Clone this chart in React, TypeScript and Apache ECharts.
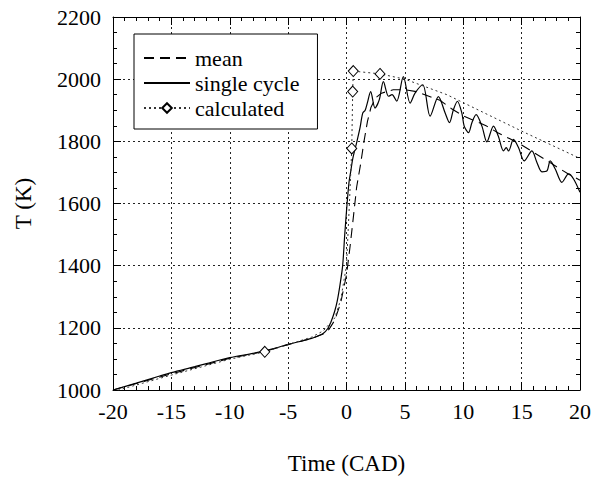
import React, { useEffect, useRef } from "react";
import * as echarts from "echarts";

// ---- data ----
const meanX = [-20, -15, -10, -7, -5, -3, -2, -1.5, -1, -0.5, 0, 0.3, 0.6, 0.87, 1.2, 1.5, 1.8, 2.1, 2.5, 3, 4, 5, 6, 7, 8, 9, 10, 11, 12, 13, 14, 15, 16, 17, 18, 19, 20];
const meanT = [1000, 1052, 1102, 1124, 1146, 1166, 1180, 1195, 1225, 1280, 1370, 1460, 1560, 1653, 1725, 1800, 1865, 1910, 1940, 1955, 1966, 1966, 1960, 1946, 1932, 1905, 1882, 1866, 1849, 1827, 1808, 1788, 1765, 1742, 1718, 1695, 1675];

const singleX = [-20, -18, -16, -15, -13, -12, -10, -8, -7, -6, -5, -4, -3, -2.5, -2, -1.6, -1.3, -1.0, -0.8, -0.55, -0.33, -0.15, 0.05, 0.22, 0.35, 0.53, 0.87, 1.16, 1.39, 1.6, 1.78, 2.07, 2.44, 2.81, 3.16, 3.6, 3.9, 4.3, 4.87, 5.45, 5.87, 6.53, 7.16, 7.87, 8.45, 8.82, 9.16, 9.5, 9.88, 10.08, 10.45, 10.74, 11.1, 11.6, 12.02, 12.59, 13.0, 13.45, 13.68, 13.88, 14.3, 14.73, 15.22, 15.88, 16.31, 16.74, 17.17, 17.45, 17.88, 18.45, 19.02, 19.45, 20];
const singleT = [1000, 1022, 1045, 1056, 1075, 1085, 1104, 1118, 1126, 1136, 1147, 1156, 1166, 1173, 1182, 1198, 1222, 1255, 1285, 1340, 1400, 1500, 1600, 1670, 1700, 1743, 1796, 1844, 1891, 1900, 1923, 1960, 1907, 1934, 1992, 1945, 1950, 1929, 2008, 1923, 1955, 1982, 1881, 1944, 1891, 1860, 1902, 1929, 1891, 1849, 1828, 1860, 1886, 1849, 1798, 1849, 1817, 1769, 1780, 1769, 1806, 1780, 1737, 1769, 1732, 1702, 1705, 1737, 1711, 1668, 1695, 1679, 1636];

const calcX = [-20, -15, -10, -7, -5, -3, -2, -1, -0.5, 0, 0.25, 0.45, 0.53, 0.58, 2.87, 5, 8.6, 15, 20];
const calcT = [995, 1048, 1099, 1123, 1146, 1170, 1190, 1232, 1290, 1400, 1600, 1777, 1960, 2026, 2017, 2000, 1950, 1833, 1745];
const calcMarked = [false, false, false, true, false, false, false, false, false, false, false, true, true, true, true, false, false, false, false];

const xTicks = { min: -20, max: 20, interval: 5 };
const yTicks = { min: 1000, max: 2200, interval: 200 };

const FONT = "'Liberation Serif', 'Times New Roman', serif";

export default function App() {
  const ref = useRef<HTMLDivElement>(null);

  useEffect(() => {
    if (!ref.current) return;
    const chart = echarts.init(ref.current, undefined, { renderer: "svg" });

    const gridLine = { show: true, lineStyle: { color: "#222", type: [2, 3] as any, width: 1 } };
    const axisLine = { show: true, onZero: false, lineStyle: { color: "#000", width: 1 } };
    const tick = { show: true, inside: true, length: 8, lineStyle: { color: "#000" } };

    const baseX = {
      type: "value" as const,
      min: xTicks.min,
      max: xTicks.max,
      interval: xTicks.interval,
      axisLine,
      axisTick: tick,
      minorTick: { show: true, splitNumber: 5, length: 4, lineStyle: { color: "#000" } },
    };
    const baseY = {
      type: "value" as const,
      min: yTicks.min,
      max: yTicks.max,
      interval: yTicks.interval,
      axisLine,
      axisTick: tick,
      minorTick: { show: true, splitNumber: 4, length: 4, lineStyle: { color: "#000" } },
    };

    chart.setOption({
      animation: false,
      backgroundColor: "#fff",
      grid: { left: 113, right: 18, top: 17, bottom: 87, containLabel: false },
      xAxis: [
        {
          ...baseX,
          position: "bottom",
          splitLine: gridLine,
          axisLabel: { color: "#000", fontSize: 22, fontFamily: FONT, margin: 10, formatter: (v: number) => String(v) },
          name: "Time (CAD)",
          nameLocation: "middle",
          nameGap: 62,
          nameTextStyle: { color: "#000", fontSize: 23, fontFamily: FONT },
        },
        { ...baseX, position: "top", splitLine: { show: false }, axisLabel: { show: false } },
      ],
      yAxis: [
        {
          ...baseY,
          position: "left",
          splitLine: gridLine,
          axisLabel: { color: "#000", fontSize: 22, fontFamily: FONT, margin: 12, formatter: (v: number) => String(v) },
          name: "T (K)",
          nameLocation: "middle",
          nameGap: 78,
          nameRotate: 90,
          nameTextStyle: { color: "#000", fontSize: 23, fontFamily: FONT },
        },
        { ...baseY, position: "right", splitLine: { show: false }, axisLabel: { show: false } },
      ],
      legend: {
        orient: "vertical",
        left: 134,
        top: 34,
        padding: [13, 18, 10, 9],
        itemGap: 3,
        itemWidth: 46,
        itemHeight: 12,
        backgroundColor: "#fff",
        borderColor: "#000",
        borderWidth: 1,
        borderRadius: 0,
        textStyle: { color: "#000", fontSize: 22, fontFamily: FONT, lineHeight: 22 },
        data: [
          { name: "mean", itemStyle: { opacity: 0, color: "transparent", borderWidth: 0 } },
          { name: "single cycle", itemStyle: { opacity: 0, color: "transparent", borderWidth: 0 } },
          { name: "calculated" },
        ],
      },
      series: [
        {
          name: "mean",
          type: "line",
          symbol: "none",
          data: meanX.map((x, i) => [x, meanT[i]]),
          lineStyle: { color: "#000", width: 1.1, type: [10, 6] },
          itemStyle: { color: "#000" },
          z: 3,
        },
        {
          name: "single cycle",
          type: "line",
          symbol: "none",
          smooth: 0.3,
          data: singleX.map((x, i) => [x, singleT[i]]),
          lineStyle: { color: "#000", width: 1.2, type: "solid" },
          itemStyle: { color: "#000" },
          z: 4,
        },
        {
          name: "calculated",
          type: "line",
          symbol: "diamond",
          symbolSize: [10, 11],
          showSymbol: true,
          data: calcX.map((x, i) => ({
            value: [x, calcT[i]],
            symbol: calcMarked[i] ? "diamond" : "none",
          })),
          lineStyle: { color: "#333", width: 1, type: [2, 3] },
          itemStyle: { color: "#fff", borderColor: "#000", borderWidth: 1 },
          z: 5,
        },
      ],
    });

    return () => chart.dispose();
  }, []);

  return (
    <div
      ref={ref}
      style={{ position: "fixed", left: 0, top: 0, width: 598, height: 480, background: "#fff" }}
    />
  );
}
